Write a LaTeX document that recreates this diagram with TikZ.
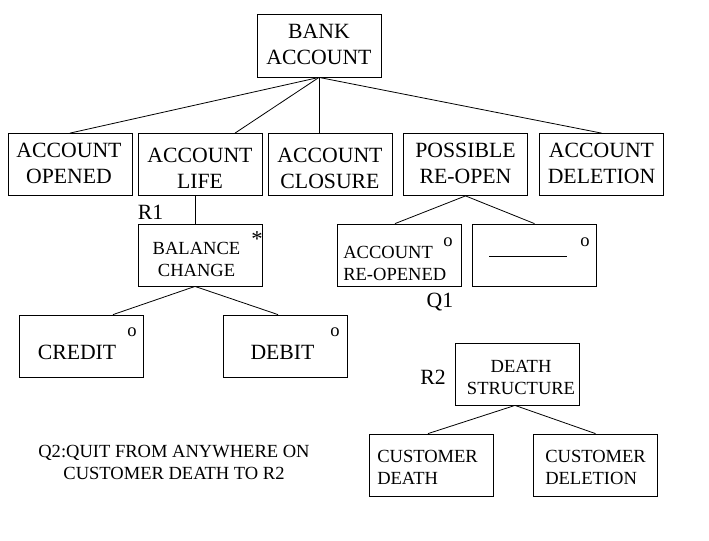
\documentclass[tikz,border=0pt]{standalone}
\usepackage{fontspec}
\setmainfont{Liberation Serif}
\usetikzlibrary{calc}

\begin{document}
\begin{tikzpicture}[x=0.75pt, y=-0.75pt,
  box/.style={draw, line width=0.6pt, minimum width=93pt, minimum height=46.5pt, inner sep=0pt},
  bigtxt/.style={font=\fontsize{16.3}{19.8}\selectfont, align=center, inner sep=0pt},
  smalltxt/.style={font=\fontsize{13.9}{16.5}\selectfont, align=center, inner sep=0pt},
  tag/.style={font=\fontsize{13.9}{16.5}\selectfont, inner sep=0pt},
  link/.style={line width=0.6pt}
]
  \def\rowa{164.5}
  \def\rowb{255}
  \def\rowc{346}

  \useasboundingbox (0,0) rectangle (709,540);

  \node[box, minimum height=47.25pt] (root) at (319,45.5) {};
  \node[bigtxt] (root-t) at (319,44.5) {BANK\\ACCOUNT};

  \node[box] (opened) at (70,\rowa) {};
  \node[box] (life) at (200,\rowa) {};
  \node[box] (closure) at (330,\rowa) {};
  \node[box] (reopen) at (465.5,\rowa) {};
  \node[box] (deletion) at (601.5,\rowa) {};
  \node[bigtxt] (opened-t) at (69,163.5) {ACCOUNT\\OPENED};
  \node[bigtxt] (life-t) at (200,168.5) {ACCOUNT\\LIFE};
  \node[bigtxt] (closure-t) at (330,168.5) {ACCOUNT\\CLOSURE};
  \node[bigtxt] (reopen-t) at (465.5,163.5) {POSSIBLE\\RE-OPEN};
  \node[bigtxt] (deletion-t) at (601.5,163.5) {ACCOUNT\\DELETION};

  \draw[link] (root.south) -- (opened.north);
  \draw[link] (root.south) -- ($(life.north)+(35,0)$);
  \draw[link] (root.south) -- ($(closure.north)+(-11,0)$);
  \draw[link] (root.south) -- (deletion.north);

  \node[box] (balance) at (200,\rowb) {};
  \node[smalltxt] (balance-t) at (196.5,259) {BALANCE\\CHANGE};
  \node[tag, font=\fontsize{17}{20}\selectfont] (balance-m) at (257,239) {*};
  \node[bigtxt] (r1) at (150.5,212) {R1};
  \draw[link] ($(life.south)+(-5,0)$) -- ($(balance.north)+(-5,0)$);

  \node[box] (reopened) at (399,\rowb) {};
  \node[smalltxt, anchor=west, align=left] (reopened-t) at (343,263) {ACCOUNT\\RE-OPENED};
  \node[tag] (reopened-m) at (448,242) {o};
  \node[box] (blank) at (534.5,\rowb) {};
  \node[tag, anchor=base west] (blank-t) at (489,255) {\rule[-1.5pt]{58.5pt}{0.6pt}};
  \node[tag] (blank-m) at (585,242) {o};
  \node[bigtxt] (q1) at (440,302) {Q1};
  \draw[link] (reopen.south) -- ($(reopened.north)+(-4,0)$);
  \draw[link] (reopen.south) -- (blank.north);

  \node[box] (credit) at (81.5,\rowc) {};
  \node[bigtxt] (credit-t) at (77,352) {CREDIT};
  \node[tag] (credit-m) at (132,332) {o};
  \node[box] (debit) at (285,\rowc) {};
  \node[bigtxt] (debit-t) at (282.5,352) {DEBIT};
  \node[tag] (debit-m) at (335,332) {o};
  \draw[link] ($(balance.south)+(-5,0)$) -- ($(credit.north)+(31.5,0)$);
  \draw[link] ($(balance.south)+(-5,0)$) -- ($(debit.north)+(-7,0)$);

  \node[box] (death) at (517,374) {};
  \node[smalltxt] (death-t) at (521,377) {DEATH\\STRUCTURE};
  \node[bigtxt] (r2) at (433,377) {R2};
  \node[box] (custdeath) at (431.5,465) {};
  \node[smalltxt, anchor=west, align=left] (custdeath-t) at (377,467) {CUSTOMER\\DEATH};
  \node[box] (custdel) at (595.5,465) {};
  \node[smalltxt, anchor=west, align=left] (custdel-t) at (545,467) {CUSTOMER\\DELETION};
  \draw[link] ($(death.south)+(-2,0)$) -- ($(custdeath.north)+(-3.5,0)$);
  \draw[link] ($(death.south)+(-2,0)$) -- (custdel.north);

  \node[smalltxt] (q2) at (174,462.5) {Q2:QUIT FROM ANYWHERE ON\\CUSTOMER DEATH TO R2};
\end{tikzpicture}
\end{document}
